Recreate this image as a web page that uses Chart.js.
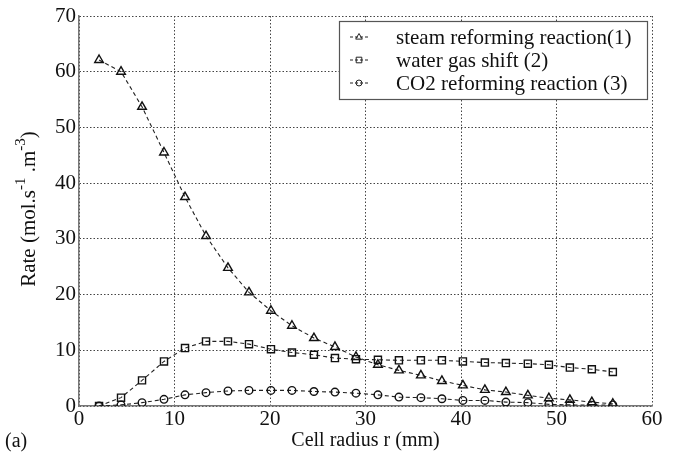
<!DOCTYPE html>
<html>
<head>
<meta charset="utf-8">
<script src="https://cdn.jsdelivr.net/npm/chart.js@4.4.0/dist/chart.umd.min.js"></script>
<style>
  html, body { margin: 0; padding: 0; background: #fff; }
  #wrap { width: 677px; height: 456px; }
</style>
</head>
<body>
<div id="wrap"><canvas id="rates" width="677" height="456"></canvas></div>
<script>
// cell radius positions (mm)
const radius = [2.1, 4.4, 6.6, 8.9, 11.1, 13.3, 15.6, 17.8, 20.1, 22.3, 24.6, 26.8, 29.0,
                31.3, 33.5, 35.8, 38.0, 40.2, 42.5, 44.7, 47.0, 49.2, 51.4, 53.7, 55.9];

// reaction rates (mol.s-1.m-3)
const steamReforming = [62.1, 60.0, 53.7, 45.5, 37.5, 30.5, 24.8, 20.4, 17.1, 14.4, 12.2, 10.6, 8.8,
                        7.4, 6.4, 5.5, 4.5, 3.7, 2.9, 2.5, 1.9, 1.4, 1.1, 0.7, 0.4];
const waterGasShift = [0.0, 1.5, 4.6, 8.0, 10.4, 11.6, 11.6, 11.1, 10.2, 9.6, 9.2, 8.6, 8.4,
                       8.3, 8.2, 8.2, 8.2, 8.0, 7.8, 7.7, 7.6, 7.4, 6.9, 6.6, 6.1];
const co2Reforming = [0.0, 0.2, 0.6, 1.2, 2.0, 2.4, 2.7, 2.8, 2.8, 2.8, 2.6, 2.5, 2.3,
                      2.0, 1.6, 1.5, 1.3, 1.0, 1.0, 0.7, 0.6, 0.3, 0.2, 0.15, 0.2];

const seriesNames = ["steam reforming reaction(1)", "water gas shift (2)", "CO2 reforming reaction (3)"];
const xTicks = [0, 10, 20, 30, 40, 50, 60];
const yTicks = [0, 10, 20, 30, 40, 50, 60, 70];

const SERIF = "'Liberation Serif', 'DejaVu Serif', serif";
const INK = "#111";

function pairs(ys) {
  return radius.map((r, i) => ({ x: r, y: ys[i] }));
}

function lineSet(label, ys, style, r) {
  return {
    label,
    data: pairs(ys),
    borderColor: "#222",
    borderWidth: 1.1,
    borderDash: [4, 3],
    pointStyle: style,
    pointRadius: r,
    pointHoverRadius: r,
    pointBorderWidth: 1.4,
    pointBorderColor: "#111",
    pointBackgroundColor: "rgba(0,0,0,0)",
    fill: false,
    tension: 0
  };
}

// small marker for the legend sample
function marker(ctx, style, x, y, r) {
  ctx.beginPath();
  if (style === "triangle") {
    ctx.moveTo(x, y - r);
    ctx.lineTo(x + r * 0.95, y + r * 0.6);
    ctx.lineTo(x - r * 0.95, y + r * 0.6);
    ctx.closePath();
  } else if (style === "rect") {
    ctx.rect(x - r * 0.8, y - r * 0.8, r * 1.6, r * 1.6);
  } else {
    ctx.arc(x, y, r * 0.85, 0, Math.PI * 2);
  }
  ctx.stroke();
}

// boxed legend in the top right corner, "--o--" samples
const boxLegend = {
  id: "boxLegend",
  afterDatasetsDraw(chart) {
    const { ctx, chartArea } = chart;
    const right = chartArea.right - 5;
    const top = chartArea.top + 5;
    const w = 308, h = 78;
    const left = right - w;
    ctx.save();
    ctx.fillStyle = "#fff";
    ctx.fillRect(left, top, w, h);
    ctx.strokeStyle = "#555";
    ctx.lineWidth = 1.2;
    ctx.strokeRect(left + 0.5, top + 0.5, w, h);
    ctx.font = "21px " + SERIF;
    ctx.textBaseline = "middle";
    ctx.fillStyle = INK;
    chart.data.datasets.forEach((ds, i) => {
      const y = top + 16 + i * 23;
      ctx.strokeStyle = "#222";
      ctx.lineWidth = 1;
      ctx.setLineDash([3, 2]);
      ctx.beginPath();
      ctx.moveTo(left + 11, y);
      ctx.lineTo(left + 29, y);
      ctx.stroke();
      ctx.setLineDash([]);
      ctx.fillStyle = "#fff";
      marker(ctx, ds.pointStyle, left + 20, y, 3.5);
      ctx.fillStyle = INK;
      ctx.fillText(ds.label, left + 57, y + 1);
    });
    ctx.restore();
  }
};

// axis titles and panel tag
const titles = {
  id: "titles",
  afterDraw(chart) {
    const { ctx, chartArea } = chart;
    ctx.save();
    ctx.fillStyle = INK;
    ctx.textBaseline = "middle";
    ctx.font = "20px " + SERIF;
    ctx.textAlign = "center";
    ctx.fillText("Cell radius r (mm)", (chartArea.left + chartArea.right) / 2, chartArea.bottom + 35);
    ctx.textAlign = "left";
    ctx.fillText("(a)", 5, chartArea.bottom + 36);

    // rotated y title with superscripts
    const parts = [
      { t: "Rate (mol.s", sup: false },
      { t: "-1", sup: true },
      { t: " .m", sup: false },
      { t: "-3", sup: true },
      { t: ")", sup: false }
    ];
    const big = "21px " + SERIF, small = "15px " + SERIF;
    let total = 0;
    parts.forEach(p => { ctx.font = p.sup ? small : big; total += ctx.measureText(p.t).width; });
    ctx.translate(29, (chartArea.top + chartArea.bottom) / 2 - 2);
    ctx.rotate(-Math.PI / 2);
    let x = -total / 2;
    parts.forEach(p => {
      ctx.font = p.sup ? small : big;
      ctx.fillText(p.t, x, p.sup ? -8 : 0);
      x += ctx.measureText(p.t).width;
    });
    ctx.restore();
  }
};

const gridStyle = {
  color: "#444",
  lineWidth: 1,
  drawTicks: false
};

new Chart(document.getElementById("rates"), {
  type: "line",
  data: {
    datasets: [
      lineSet(seriesNames[0], steamReforming, "triangle", 5),
      lineSet(seriesNames[1], waterGasShift, "rect", 5),
      lineSet(seriesNames[2], co2Reforming, "circle", 3.8)
    ]
  },
  options: {
    responsive: false,
    animation: false,
    events: [],
    layout: { padding: { top: 16, right: 25, bottom: 0, left: 0 } },
    plugins: { legend: { display: false }, tooltip: { enabled: false } },
    scales: {
      x: {
        type: "linear",
        min: 0, max: 60,
        afterBuildTicks: s => { s.ticks = xTicks.map(v => ({ value: v })); },
        afterFit: s => { s.height = 50; },
        grid: gridStyle,
        // dash here sets the dotted grid lines; the axis line stays solid
        border: { display: true, color: "#777", width: 1.5, dash: [1.5, 2] },
        ticks: { color: INK, font: { family: SERIF, size: 21 }, padding: 1, maxRotation: 0 }
      },
      y: {
        type: "linear",
        min: 0, max: 70,
        afterBuildTicks: s => { s.ticks = yTicks.map(v => ({ value: v })); },
        afterFit: s => { s.width = 79; },
        grid: gridStyle,
        border: { display: true, color: "#777", width: 1.5, dash: [1.5, 2] },
        ticks: { color: INK, font: { family: SERIF, size: 21 }, padding: 3 }
      }
    }
  },
  plugins: [boxLegend, titles]
});
</script>
</body>
</html>
